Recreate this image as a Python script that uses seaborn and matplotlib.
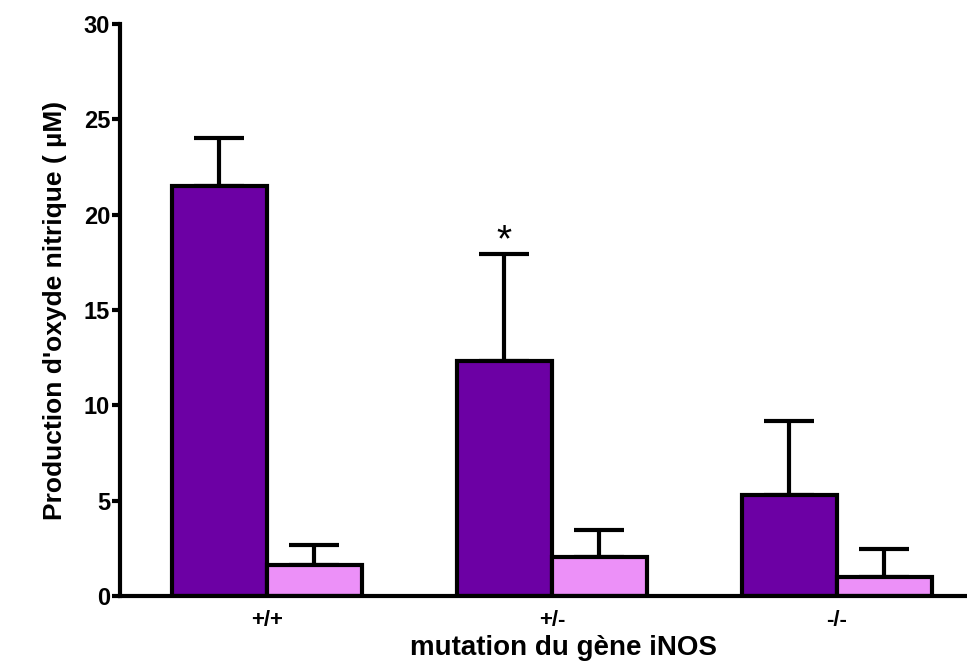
import numpy as np
import pandas as pd
import matplotlib
matplotlib.use("Agg")
import matplotlib.pyplot as plt
import seaborn as sns

# values
genotypes = ["+/+", "+/-", "-/-"]
treated = [21.5, 12.35, 5.3]
treated_err = [2.5, 5.6, 3.9]
control = [1.6, 2.05, 1.0]
control_err = [1.1, 1.4, 1.45]
groups = ["A", "B"]

df = pd.DataFrame({
    "genotype": genotypes * 2,
    "group": [groups[0]] * 3 + [groups[1]] * 3,
    "value": treated + control,
})
errs = treated_err + control_err

sns.set_style("ticks")
plt.rcParams["font.family"] = ["Liberation Sans", "DejaVu Sans"]
plt.rcParams["font.weight"] = "bold"
plt.rcParams["text.color"] = "black"
plt.rcParams["axes.labelcolor"] = "black"
plt.rcParams["xtick.color"] = "black"
plt.rcParams["ytick.color"] = "black"
plt.rcParams["axes.edgecolor"] = "black"

fig = plt.figure(figsize=(9.67, 6.62), dpi=100)
ax = fig.add_axes([0.124, 0.0997, 0.874, 0.864])

sns.barplot(data=df, x="genotype", y="value", hue="group",
            palette=["#6c00a4", "#ec90f8"], errorbar=None, width=0.667,
            edgecolor="black", linewidth=3, saturation=1, ax=ax, legend=False)

# one-sided error bars on top of each bar
for bar, v, e in zip(ax.patches, df["value"], errs):
    xc = bar.get_x() + bar.get_width() / 2
    ax.errorbar(xc, v, yerr=[[0], [e]], fmt="none", ecolor="black",
                elinewidth=3, capsize=18, capthick=3, zorder=0)

# significance marker above +/- treated bar
b = ax.patches[1]
ax.text(b.get_x() + b.get_width() / 2, treated[1] + treated_err[1] - 0.3, "*",
        ha="center", va="bottom", fontsize=28, fontweight="normal")

ax.set_ylim(0, 30)
ax.set_xlim(-0.516, 2.45)
ax.set_yticks([0, 5, 10, 15, 20, 25, 30])
sns.despine(ax=ax)
for s in ["left", "bottom"]:
    ax.spines[s].set_linewidth(3)
ax.tick_params(axis="y", length=6, width=3, labelsize=17, pad=1)
ax.tick_params(axis="x", length=0, labelsize=16, pad=10)
ax.set_xlabel("mutation du gène iNOS", fontsize=20, fontweight="bold", labelpad=3)
ax.xaxis.label.set_x(0.525)
ax.set_ylabel("Production d'oxyde nitrique ( µM)", fontsize=19, fontweight="bold", labelpad=12)

fig.savefig("out.png", dpi=100)
